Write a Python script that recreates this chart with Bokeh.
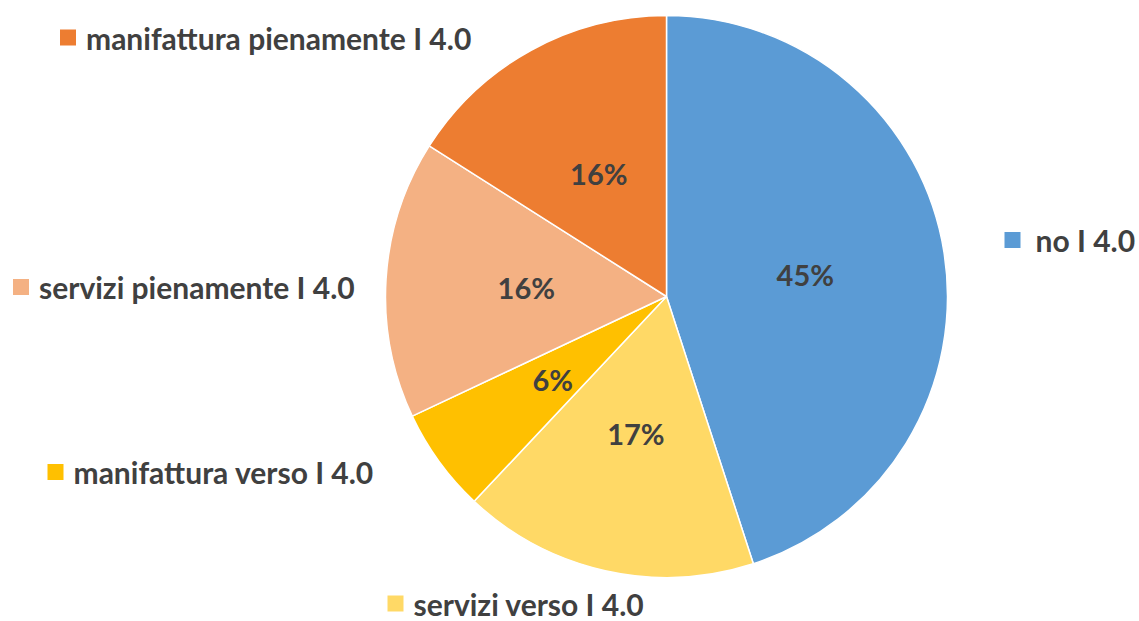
import numpy as np
from bokeh.plotting import figure
from bokeh.models import ColumnDataSource, Range1d
from bokeh.core.properties import value
from bokeh.embed import file_html
from bokeh.resources import INLINE

# ---- data ----
categories = ["no I 4.0", "servizi verso I 4.0", "manifattura verso I 4.0",
              "servizi pienamente I 4.0", "manifattura pienamente I 4.0"]
shares = [45, 17, 6, 16, 16]
colors = ["#5B9BD5", "#FFD966", "#FFC000", "#F4B183", "#ED7D31"]

# ---- layout (pixels from top-left of the figure) ----
W, H = 1139, 621
CX, CY, R = 666, 296, 281
legend_pos = [(1012, 239.5), (395, 603), (55, 471.5), (20.5, 286.5), (67.5, 37)]
legend_gap = [23, 18, 18, 18, 18]

p = figure(width=W, height=H, output_backend="svg", toolbar_location=None,
           x_range=Range1d(0, W), y_range=Range1d(0, H), min_border=0)
p.axis.visible = False
p.grid.visible = False
p.outline_line_color = None
p.background_fill_color = "white"

vals = np.array(shares, dtype=float)
frac = vals / vals.sum()
ang = frac * 2 * np.pi
ends = np.pi / 2 - np.cumsum(ang)
starts = ends + ang
mids = (starts + ends) / 2

src = ColumnDataSource(dict(start=starts, end=ends, color=colors, cat=categories))
p.wedge(x=CX, y=H - CY, radius=R, start_angle="start", end_angle="end",
        direction="clock", fill_color="color", line_color="white",
        line_width=1.5, source=src)

lab = ColumnDataSource(dict(
    x=CX + 0.5 * R * np.cos(mids),
    y=(H - CY) + 0.5 * R * np.sin(mids),
    t=[f"{v:.0f}%" for v in frac * 100]))
p.text(x="x", y="y", text="t", source=lab, text_align="center",
       text_baseline="middle", text_font=value("Lato"), text_font_style="bold",
       text_font_size="29px", text_color="#404040")

lx = [q[0] for q in legend_pos]
ly = [H - q[1] for q in legend_pos]
leg = ColumnDataSource(dict(x=lx, y=ly, tx=[x + g for x, g in zip(lx, legend_gap)],
                            color=colors, cat=categories))
p.scatter(x="x", y="y", source=leg, marker="square", size=16, fill_color="color",
          line_color=None)
p.text(x="tx", y="y", text="cat", source=leg, text_align="left",
       text_baseline="middle", text_font=value("Lato"), text_font_style="bold",
       text_font_size="30px", text_color="#404040")

open("out.html", "w").write(file_html(p, INLINE))
